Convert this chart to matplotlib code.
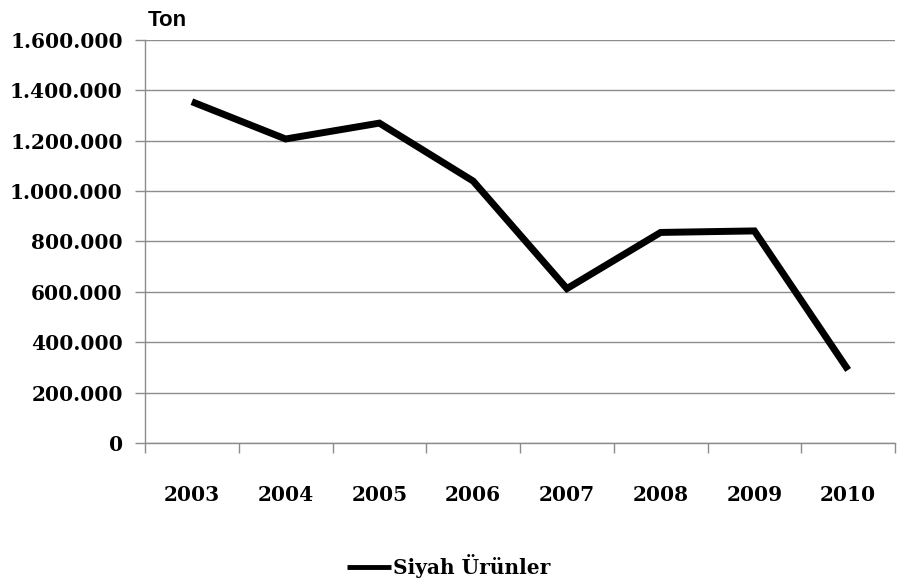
import matplotlib
matplotlib.use("Agg")
import matplotlib.pyplot as plt
from matplotlib.ticker import FuncFormatter, FixedLocator

years = ["2003", "2004", "2005", "2006", "2007", "2008", "2009", "2010"]
siyah_urunler = [1355000, 1207000, 1270000, 1040000, 613000, 836000, 842000, 290000]
y_ticks = [0, 200000, 400000, 600000, 800000, 1000000, 1200000, 1400000, 1600000]

SERIF = ["DejaVu Serif"]
GRID = "#8c8c8c"


def tr_fmt(v, _pos):
    return f"{int(v):,}".replace(",", ".")


fig = plt.figure(figsize=(8.97, 5.81), dpi=100)
ax = fig.add_axes([145 / 897, 1 - 443 / 581, (895 - 145) / 897, (443 - 40) / 581])

x = list(range(len(years)))
line, = ax.plot(x, siyah_urunler, color="black", lw=5, solid_joinstyle="miter",
                solid_capstyle="butt", label="Siyah Ürünler")

ax.set_xlim(-0.5, len(years) - 0.5)
ax.set_ylim(0, 1600000)
ax.set_yticks(y_ticks)
ax.yaxis.set_major_formatter(FuncFormatter(tr_fmt))
ax.grid(axis="y", color=GRID, lw=1)
ax.set_axisbelow(True)

ax.set_xticks(x)
ax.set_xticklabels(years)
ax.xaxis.set_minor_locator(FixedLocator([i - 0.5 for i in range(len(years) + 1)]))
ax.tick_params(axis="x", which="major", length=0, pad=30)
ax.tick_params(axis="x", which="minor", length=7, color=GRID, width=1)
ax.tick_params(axis="y", length=7, color=GRID, width=1, pad=9)

for lab in ax.get_xticklabels() + ax.get_yticklabels():
    lab.set_family(SERIF)
    lab.set_fontweight("bold")
    lab.set_fontsize(14.5)

for s in ["top", "right"]:
    ax.spines[s].set_visible(False)
for s in ["left", "bottom"]:
    ax.spines[s].set_color(GRID)
    ax.spines[s].set_linewidth(1)

fig.text(148 / 897, 1 - 20 / 581, "Ton", family="Liberation Sans", fontweight="bold",
         fontsize=16, ha="left", va="center")

leg = fig.legend(handles=[line], loc="center", bbox_to_anchor=(0.5, 1 - 566 / 581),
                 frameon=False, handlelength=2.2, handletextpad=0.1,
                 prop={"family": SERIF, "weight": "bold", "size": 14.5})
leg.get_lines()[0].set_linewidth(3.5)

fig.savefig("out.png", dpi=100)
